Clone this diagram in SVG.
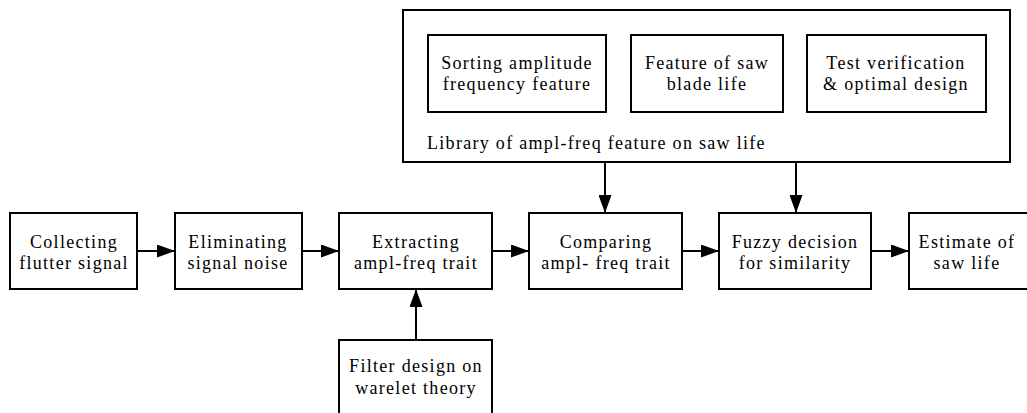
<svg xmlns="http://www.w3.org/2000/svg" width="1027" height="413" viewBox="0 0 1027 413">
  <style>
    .box { fill: #ffffff; stroke: #000000; stroke-width: 2; }
    .line { fill: none; stroke: #000000; stroke-width: 2; }
    .lbl { font-family: 'Liberation Serif', 'Times New Roman', serif; font-size: 18px; letter-spacing: 1.3px; fill: #000000; text-anchor: middle; }
    .lbl-left { text-anchor: start; }
  </style>
  <defs>
    <marker id="arrow" viewBox="0 0 18 13" refX="18" refY="6.5" markerWidth="18" markerHeight="13" markerUnits="userSpaceOnUse" orient="auto">
      <path d="M0,0 L18,6.5 L0,13 Z" fill="#000000"/>
    </marker>
  </defs>
  <rect width="1027" height="413" fill="#ffffff"/>

  <!-- feature library frame with its three modules -->
  <g id="library">
    <rect class="box" x="403" y="10" width="607" height="152"/>
    <text class="lbl lbl-left" x="427" y="149">Library of ampl-freq feature on saw life</text>
  </g>
  <g id="sorting">
    <rect class="box" x="428" y="35" width="178" height="77"/>
    <text class="lbl" x="517" y="69">Sorting amplitude</text>
    <text class="lbl" x="517" y="90">frequency feature</text>
  </g>
  <g id="feature">
    <rect class="box" x="631" y="35" width="152" height="77"/>
    <text class="lbl" x="707" y="69">Feature of saw</text>
    <text class="lbl" x="707" y="90">blade life</text>
  </g>
  <g id="test">
    <rect class="box" x="807" y="35" width="179" height="77"/>
    <text class="lbl" x="896" y="69">Test verification</text>
    <text class="lbl" x="896" y="90">&amp; optimal design</text>
  </g>

  <!-- main processing chain -->
  <g id="collecting">
    <rect class="box" x="10" y="213" width="127" height="76"/>
    <text class="lbl" x="74" y="248">Collecting</text>
    <text class="lbl" x="74" y="269">flutter signal</text>
  </g>
  <g id="eliminating">
    <rect class="box" x="175" y="213" width="127" height="76"/>
    <text class="lbl" x="238" y="248">Eliminating</text>
    <text class="lbl" x="238" y="269">signal noise</text>
  </g>
  <g id="extracting">
    <rect class="box" x="339" y="213" width="153" height="76"/>
    <text class="lbl" x="416" y="248">Extracting</text>
    <text class="lbl" x="416" y="269">ampl-freq trait</text>
  </g>
  <g id="comparing">
    <rect class="box" x="529" y="213" width="153" height="76"/>
    <text class="lbl" x="606" y="248">Comparing</text>
    <text class="lbl" x="606" y="269">ampl- freq trait</text>
  </g>
  <g id="fuzzy">
    <rect class="box" x="719" y="213" width="152" height="76"/>
    <text class="lbl" x="795" y="248">Fuzzy decision</text>
    <text class="lbl" x="795" y="269">for similarity</text>
  </g>
  <g id="estimate">
    <rect class="box" x="909" y="213" width="130" height="76"/>
    <text class="lbl" x="967" y="248">Estimate of</text>
    <text class="lbl" x="967" y="269">saw life</text>
  </g>
  <g id="filter">
    <rect class="box" x="339" y="340" width="153" height="90"/>
    <text class="lbl" x="416" y="372">Filter design on</text>
    <text class="lbl" x="416" y="394">warelet theory</text>
  </g>

  <!-- connectors -->
  <g id="connectors">
    <line class="line" x1="137" y1="251" x2="175" y2="251" marker-end="url(#arrow)"/>
    <line class="line" x1="302" y1="251" x2="339" y2="251" marker-end="url(#arrow)"/>
    <line class="line" x1="492" y1="251" x2="529" y2="251" marker-end="url(#arrow)"/>
    <line class="line" x1="682" y1="251" x2="719" y2="251" marker-end="url(#arrow)"/>
    <line class="line" x1="871" y1="251" x2="909" y2="251" marker-end="url(#arrow)"/>
    <line class="line" x1="416" y1="340" x2="416" y2="289" marker-end="url(#arrow)"/>
    <line class="line" x1="605" y1="162" x2="605" y2="213" marker-end="url(#arrow)"/>
    <line class="line" x1="796" y1="162" x2="796" y2="213" marker-end="url(#arrow)"/>
  </g>
</svg>
